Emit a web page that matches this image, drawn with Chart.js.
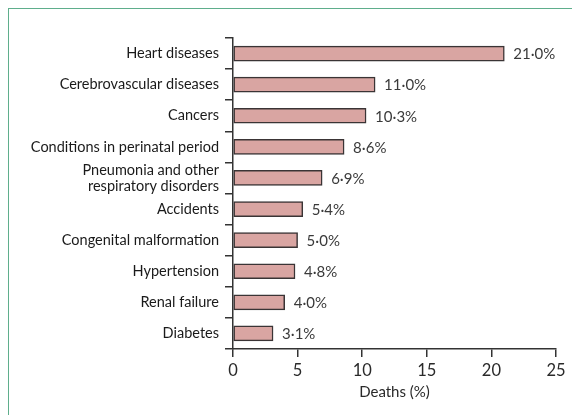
<!DOCTYPE html>
<html>
<head>
<meta charset="utf-8">
<script src="https://cdn.jsdelivr.net/npm/chart.js@4"></script>
<style>
  html, body { margin: 0; padding: 0; background: #fff; overflow: hidden; }
  #wrap { position: relative; width: 572px; height: 415px; }
  #frame { position: absolute; left: 8px; top: 8px; width: 564px; height: 407px;
           border-top: 1.5px solid #5fae8c; border-left: 1.5px solid #5fae8c; box-sizing: border-box; }
  canvas { position: absolute; left: 0; top: 0; }
</style>
</head>
<body>
<div id="wrap">
  <div id="frame"></div>
  <canvas id="chartDeaths" width="572" height="415"></canvas>
</div>
<script>
// causes of death, share of all deaths (%)
const causes = [
    'Heart diseases',
    'Cerebrovascular diseases',
    'Cancers',
    'Conditions in perinatal period',
    ['Pneumonia and other', 'respiratory disorders'],
    'Accidents',
    'Congenital malformation',
    'Hypertension',
    'Renal failure',
    'Diabetes'
];
const deaths = [21.0, 11.0, 10.3, 8.6, 6.9, 5.4, 5.0, 4.8, 4.0, 3.1];
const xTicks = [0, 5, 10, 15, 20, 25];

const fontFamily = 'Lato, "Open Sans", sans-serif';

// write values after each bar, decimal point as middle dot
const valueLabels = {
    id: 'valueLabels',
    afterDatasetsDraw(chart) {
        const ctx = chart.ctx;
        const meta = chart.getDatasetMeta(0);
        ctx.save();
        ctx.font = '15px ' + fontFamily;
        ctx.fillStyle = '#3a3a3a';
        ctx.textBaseline = 'middle';
        ctx.textAlign = 'left';
        meta.data.forEach((bar, i) => {
            const txt = deaths[i].toFixed(1).replace('.', '\u00b7') + '%';
            ctx.fillText(txt, bar.x + 9, bar.y + 1);
        });
        ctx.restore();
    }
};

const ctxDeaths = document.getElementById('chartDeaths').getContext('2d');
new Chart(ctxDeaths, {
    type: 'bar',
    data: {
        labels: causes,
        datasets: [{
            label: 'Deaths (%)',
            data: deaths,
            backgroundColor: '#d9a5a2',
            borderColor: '#3a3435',
            borderWidth: 1.5,
            borderSkipped: false,
            barThickness: 15
        }]
    },
    options: {
        indexAxis: 'y',
        responsive: false,
        animation: false,
        layout: {
            padding: { top: 38, right: 16, left: 0, bottom: 10 }
        },
        plugins: {
            legend: { display: false },
            tooltip: { enabled: false }
        },
        scales: {
            x: {
                min: 0,
                max: 25,
                afterBuildTicks: axis => { axis.ticks = xTicks.map(v => ({ value: v })); },
                afterFit: axis => { axis.height = 56; },
                grid: {
                    drawOnChartArea: false,
                    drawTicks: true,
                    tickLength: 8,
                    color: '#333',
                    lineWidth: 1.5
                },
                border: { color: '#333', width: 1.5 },
                ticks: {
                    color: '#2a2a2a',
                    padding: 4,
                    font: { family: fontFamily, size: 16.5 }
                },
                title: {
                    display: true,
                    text: 'Deaths (%)',
                    color: '#2a2a2a',
                    padding: { top: 2 },
                    font: { family: fontFamily, size: 15 }
                }
            },
            y: {
                afterFit: axis => { axis.width = 233; },
                grid: {
                    offset: true,
                    drawOnChartArea: false,
                    drawTicks: true,
                    tickLength: 8,
                    color: '#333',
                    lineWidth: 1.5
                },
                border: { color: '#333', width: 1.5 },
                ticks: {
                    autoSkip: false,
                    color: '#1a1a1a',
                    padding: 6,
                    font: { family: fontFamily, size: 14.5, lineHeight: 1.1 }
                }
            }
        }
    },
    plugins: [valueLabels]
});
</script>
</body>
</html>
